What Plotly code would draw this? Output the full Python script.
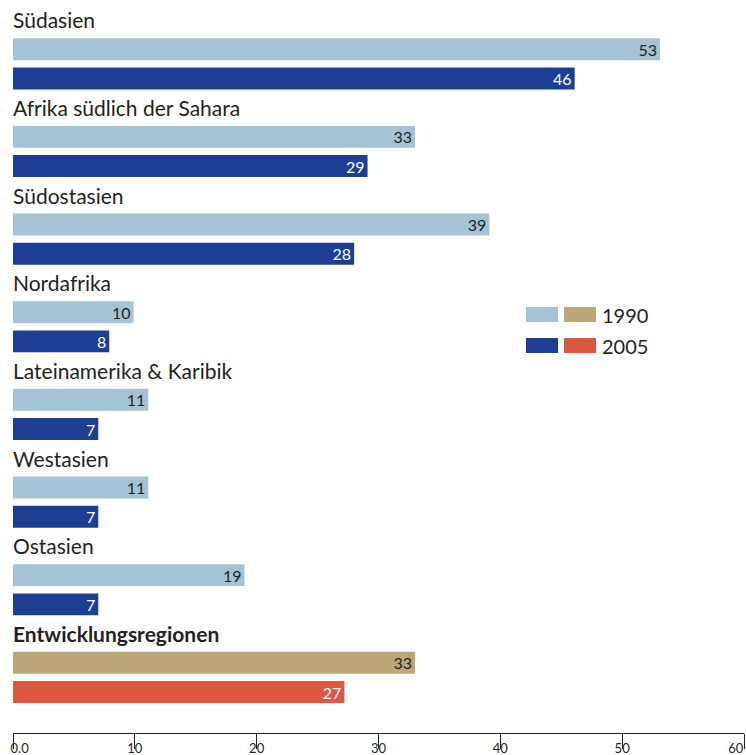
import plotly.graph_objects as go

regions = ["Südasien", "Afrika südlich der Sahara", "Südostasien", "Nordafrika",
           "Lateinamerika & Karibik", "Westasien", "Ostasien", "Entwicklungsregionen"]
v1990 = [53.1, 33.0, 39.1, 9.9, 11.1, 11.1, 19.0, 33.0]
v2005 = [46.1, 29.1, 28.0, 7.9, 7.0, 7.0, 7.0, 27.2]
labels1990 = ["53", "33", "39", "10", "11", "11", "19", "33"]
labels2005 = ["46", "29", "28", "8", "7", "7", "7", "27"]
years = ["1990", "2005"]
tick_vals = [0, 10, 20, 30, 40, 50, 60]
tick_text = ["0.0", "10", "20", "30", "40", "50", "60"]

C_LIGHT = "#A5C3D4"
C_DARK = "#1C3F94"
C_TAN = "#BCA77A"
C_RED = "#DB5843"
TXT = "#231F20"
FONT = "Lato"

n = len(regions)
y_lab = [-(3 * i) for i in range(n)]
y1 = [-(3 * i + 1) for i in range(n)]
y2 = [-(3 * i + 2) for i in range(n)]

col1 = [C_LIGHT] * (n - 1) + [C_TAN]
col2 = [C_DARK] * (n - 1) + [C_RED]
tcol1 = [TXT] * n
tcol2 = ["white"] * n

fig = go.Figure()
fig.add_trace(go.Bar(
    x=v1990, y=y1, orientation="h", width=0.75, name=years[0],
    marker=dict(color=col1, line=dict(width=0)),
    text=labels1990, textposition="inside", insidetextanchor="end",
    constraintext="none",
    textfont=dict(family=FONT, size=16, color=tcol1), textangle=0,
    showlegend=False, cliponaxis=False,
))
fig.add_trace(go.Bar(
    x=v2005, y=y2, orientation="h", width=0.75, name=years[1],
    marker=dict(color=col2, line=dict(width=0)),
    text=labels2005, textposition="inside", insidetextanchor="end",
    constraintext="none",
    textfont=dict(family=FONT, size=16, color=tcol2), textangle=0,
    showlegend=False, cliponaxis=False,
))

for i, r in enumerate(regions):
    txt = f"<b>{r}</b>" if i == n - 1 else r
    fig.add_annotation(x=0, y=y_lab[i], xref="x", yref="y", text=txt,
                       showarrow=False, xanchor="left", yanchor="middle",
                       xshift=-2,
                       font=dict(family=FONT, size=21, color=TXT))

# custom legend (layout, paper coordinates)
W0, W = 13, 731
H = 733
def px(x):
    return (x - W0) / W
def py(y):
    return (H - y) / H

leg_rows = [(307, 322, C_LIGHT, C_TAN, years[0]), (338, 353, C_DARK, C_RED, years[1])]
for (ya, yb, ca, cb, lab) in leg_rows:
    fig.add_shape(type="rect", xref="paper", yref="paper",
                  x0=px(526), x1=px(558), y0=py(yb), y1=py(ya),
                  fillcolor=ca, line=dict(width=0))
    fig.add_shape(type="rect", xref="paper", yref="paper",
                  x0=px(564), x1=px(596), y0=py(yb), y1=py(ya),
                  fillcolor=cb, line=dict(width=0))
    fig.add_annotation(x=px(600), y=py((ya + yb) / 2), xref="paper", yref="paper",
                       text=lab, showarrow=False, xanchor="left", yanchor="middle",
                       font=dict(family=FONT, size=20, color=TXT))

tick_disp = list(tick_text)
tick_disp[0] = "&nbsp;" * 4 + tick_disp[0]
tick_disp[-1] = tick_disp[-1] + "&nbsp;" * 5

fig.update_layout(
    width=746, height=755,
    margin=dict(l=13, r=2, t=0, b=22, autoexpand=False),
    paper_bgcolor="white", plot_bgcolor="white",
    barmode="overlay",
    uniformtext=dict(mode=False),
)
fig.update_xaxes(
    range=[0, 60], tickvals=tick_vals, ticktext=tick_disp,
    showgrid=False, zeroline=False, showline=True, linecolor="#231F20", linewidth=1,
    ticks="outside", ticklen=15, tickcolor="#231F20", tickwidth=1,
    tickfont=dict(family=FONT, size=13, color=TXT), ticklabelstandoff=-12,
    ticklabeloverflow="allow", automargin=False,
)
fig.update_yaxes(
    range=[-24.403, 0.684], showgrid=False, zeroline=False, showline=False,
    showticklabels=False, ticks="", automargin=False,
)
fig.write_html("out.html", config={"displayModeBar": False},
               post_script="document.body.style.margin='0';document.body.style.overflow='hidden';")
